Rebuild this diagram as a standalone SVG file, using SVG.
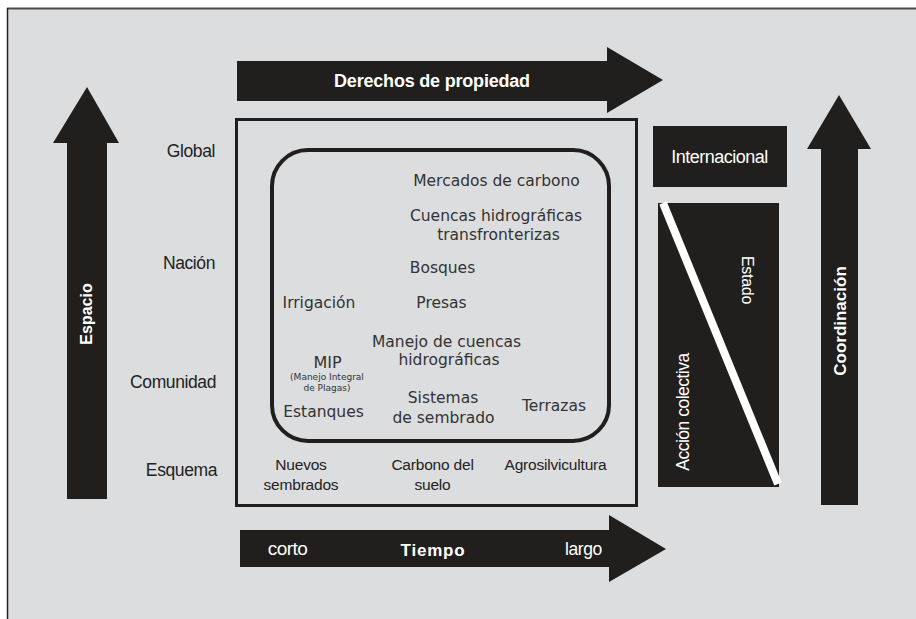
<svg xmlns="http://www.w3.org/2000/svg" width="916" height="619" viewBox="0 0 916 619">
<style>
.dark{fill:#201f1d}
.lbl{font-family:"Liberation Sans",Arial,sans-serif;fill:#222;font-size:17.5px;letter-spacing:-0.4px}
.in{font-family:"DejaVu Sans",Verdana,sans-serif;fill:#333;font-size:15.5px;text-anchor:middle}
.sm{font-size:9px}
.mip{font-size:16px}
.bot{font-family:"Liberation Sans",Arial,sans-serif;fill:#222;font-size:15.5px;text-anchor:middle;letter-spacing:-0.2px}
.wb{font-family:"Liberation Sans",Arial,sans-serif;fill:#fff;font-weight:bold;text-anchor:middle}
.w{font-family:"Liberation Sans",Arial,sans-serif;fill:#fff;text-anchor:middle}
</style>
<rect x="0" y="0" width="916" height="619" fill="#fff"/>
<rect x="7" y="8" width="909" height="611" fill="#dcdddf"/>
<line x1="7" y1="8.5" x2="916" y2="8.5" stroke="#4a4a4a" stroke-width="2"/>
<line x1="7.5" y1="8" x2="7.5" y2="619" stroke="#222" stroke-width="1.5"/>

<g id="connectors">
<g id="arrow-espacio">
<polygon class="dark" points="67,499 67,143 53,143 87,87 119,143 107,143 107,499"/>
<text class="wb" font-size="16" transform="translate(92,314) rotate(-90)">Espacio</text>
</g>
<g id="arrow-derechos">
<polygon class="dark" points="237,61 607,61 607,47 663,80 607,113 607,101 237,101"/>
<text class="wb" x="432" y="87" font-size="18" letter-spacing="-0.2">Derechos de propiedad</text>
</g>
<g id="arrow-tiempo">
<polygon class="dark" points="240,530 609,530 609,515 666,549 609,582 609,567 240,567"/>
<text class="w" x="287.5" y="555" font-size="19" letter-spacing="-0.5">corto</text>
<text class="wb" x="433" y="556" font-size="17" letter-spacing="0.8">Tiempo</text>
<text class="w" x="583.5" y="555" font-size="17.5" letter-spacing="-0.4">largo</text>
</g>
<g id="arrow-coordinacion">
<polygon class="dark" points="821,505 821,149 807,149 839,95 871,149 858,149 858,505"/>
<text class="wb" font-size="17" transform="translate(846,321) rotate(-90)">Coordinación</text>
</g>
</g>

<g id="scale-labels">
<text class="lbl" x="215" y="157" text-anchor="end">Global</text>
<text class="lbl" x="215" y="269" text-anchor="end">Nación</text>
<text class="lbl" x="216" y="388" text-anchor="end">Comunidad</text>
<text class="lbl" x="217" y="476" text-anchor="end">Esquema</text>
</g>

<g id="outer-box">
<rect x="236.5" y="119.5" width="400" height="386" fill="none" stroke="#201f1d" stroke-width="3"/>
<text class="bot" x="301" y="470">Nuevos</text>
<text class="bot" x="301" y="490">sembrados</text>
<text class="bot" x="432.5" y="470">Carbono del</text>
<text class="bot" x="432.5" y="490">suelo</text>
<text class="bot" x="555.5" y="470">Agrosilvicultura</text>
</g>

<g id="inner-box">
<rect x="272" y="150" width="337" height="291" rx="36" ry="36" fill="none" stroke="#201f1d" stroke-width="4"/>
<text class="in" x="496.5" y="186">Mercados de carbono</text>
<text class="in" x="496" y="221">Cuencas hidrográficas</text>
<text class="in" x="498.5" y="240">transfronterizas</text>
<text class="in" x="442.5" y="273">Bosques</text>
<text class="in" x="319" y="308">Irrigación</text>
<text class="in" x="441.5" y="308">Presas</text>
<text class="in" x="446.5" y="347">Manejo de cuencas</text>
<text class="in" x="449" y="365">hidrográficas</text>
<text class="in mip" x="327.5" y="368">MIP</text>
<text class="in sm" x="327" y="380">(Manejo Integral</text>
<text class="in sm" x="327" y="391">de Plagas)</text>
<text class="in" x="323.5" y="417">Estanques</text>
<text class="in" x="443" y="403">Sistemas</text>
<text class="in" x="443.5" y="423">de sembrado</text>
<text class="in" x="554" y="411">Terrazas</text>
</g>

<g id="internacional">
<rect class="dark" x="653" y="126" width="134" height="61"/>
<text class="w" x="719.5" y="163" font-size="18" letter-spacing="-0.5">Internacional</text>
</g>

<g id="estado-accion">
<rect class="dark" x="658" y="203" width="121" height="284"/>
<line x1="663" y1="203" x2="778" y2="484" stroke="#fff" stroke-width="8"/>
<text class="w" font-size="16" letter-spacing="-0.3" transform="translate(742,280) rotate(90)">Estado</text>
<text class="w" font-size="17.5" letter-spacing="-0.5" transform="translate(689,412) rotate(-90)">Acción colectiva</text>
</g>
</svg>
